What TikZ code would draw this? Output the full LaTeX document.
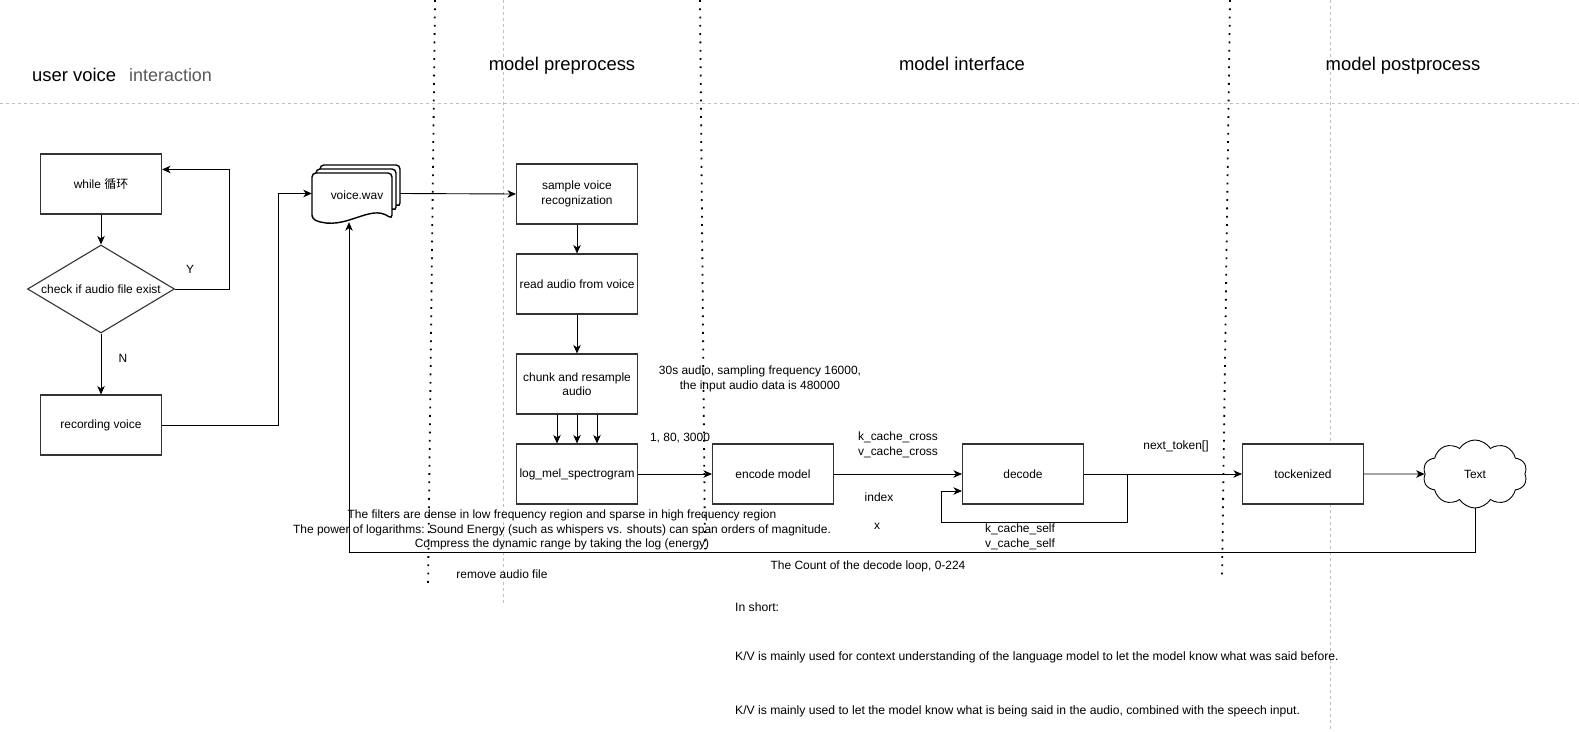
\documentclass[tikz,border=0pt]{standalone}
\usepackage{graphicx}
\usepackage{fontspec}
\setmainfont{Liberation Sans}
\newfontfamily\cjk{Noto Sans CJK SC}
\usetikzlibrary{shapes.geometric,shapes.symbols,arrows.meta,calc}
\begin{document}
\begin{tikzpicture}[x=1bp,y=-1bp,
  every node/.style={font=\fontsize{12}{14.5}\selectfont, inner sep=0pt},
  box/.style={draw=black!80, line width=1.1bp, fill=white, minimum width=121bp, minimum height=60bp, align=center},
  arr/.style={draw=black, line width=0.9bp, -{Stealth[length=8.5bp,width=7.5bp,inset=2.5bp]}},
  conn/.style={draw=black, line width=0.9bp},
  gridline/.style={draw=black!25, line width=0.7bp, dash pattern=on 3bp off 3bp},
  dots/.style={draw=black, line width=1.8bp, dash pattern=on 1.8bp off 6.5bp},
  lbl/.style={align=center},
  head/.style={font=\fontsize{18.5}{22}\selectfont},
  doc/.style={draw=black, line width=1.4bp, fill=white, rounded corners=4bp},
  note/.style={anchor=west, font=\fontsize{12.2}{14}\selectfont},
]
\useasboundingbox (0,0) rectangle (1579,732);
\fill[white] (0,0) rectangle (1579,732);

% lanes
\draw[gridline] (0,103) -- (1579,103);
\draw[gridline] (503,0) -- (503,605);
\draw[gridline] (1330,0) -- (1330,732);
\draw[dots] (435,0) -- (428,589);
\draw[dots] (700,0) -- (705,549);
\draw[dots] (1230,0) -- (1222,579);

% headings
\node[head, anchor=west] (huser) at (32,75) {user voice};
\node[anchor=west, font=\fontsize{18}{20}\selectfont, text=black!65] (hinter) at (129,75) {interaction};
\node[head] (hpre) at (562,66) {model preprocess};
\node[head] (hmod) at (962,63.5) {model interface};
\node[head] (hpost) at (1403,66) {model postprocess};

% left flow
\node[box] (while) at (101,184) {while {\cjk 循环}};
\node[draw=black!80, line width=1.1bp, diamond, minimum width=147bp, minimum height=88bp, fill=white] (chk) at (101,289) {\makebox[0pt]{check if audio file exist}};
\node[box] (rec) at (101,425) {recording voice};
\draw[arr] (while) -- (chk);
\draw[arr] (chk) -- (rec);
\node (lN) at (123,358) {N};
\node (lY) at (190,269) {Y};
\draw[arr] (chk.east) -| ($(while.north east)+(67,16)$) -- ($(while.north east)+(0,16)$);

% voice.wav multi document
\node[minimum width=88bp, minimum height=57bp] (wav) at (356,193.5) {};
\draw[doc] (320,211) -- (320,165) -- (400,165) -- (400,207) .. controls (380,196) and (350,220) .. cycle;
\draw[doc] (316,215) -- (316,169) -- (396,169) -- (396,211) .. controls (376,200) and (346,224) .. (316,215) -- cycle;
\draw[doc] (312,219) -- (312,173) -- (392,173) -- (392,219) .. controls (370,203) and (345,232) .. (312,219) -- cycle;
\node (wavtxt) at (357,195) {voice.wav};
\draw[arr] (rec.east) -- ++(116,0) |- (wav.west);

% preprocess
\node[box] (samp) at (577,194) {sample voice\\recognization};
\node[box] (read) at (577,284) {read audio from voice};
\node[box] (chunk) at (577,384) {chunk and resample\\audio};
\node[box] (logm) at (577,474) {log\_mel\_spectrogram};
\draw[arr] (wav.east) -- (samp.west);
\draw[arr] (samp) -- (read);
\draw[arr] (read) -- (chunk);
\draw[arr] ($(chunk.south)+(-20,0)$) -- ($(logm.north)+(-20,0)$);
\draw[arr] (chunk.south) -- (logm.north);
\draw[arr] ($(chunk.south)+(20,0)$) -- ($(logm.north)+(20,0)$);

% interface
\node[box] (enc) at (773,474) {encode model};
\node[box] (dec) at (1023,474) {decode};
\node[box] (tock) at (1303,474) {tockenized};
\node[cloud, draw=black, line width=0.9bp, cloud puffs=10, cloud puff arc=115, aspect=1.5, minimum width=104bp, minimum height=68bp, fill=white] (cloud) at (1475,474) {Text};
\draw[arr] (logm) -- (enc);
\draw[arr] (enc) -- (dec);
\draw[arr] (dec) -- (tock);
\draw[arr] (dec.east) -- ++(43,0) -- ++(0,48) -| ($(dec.west)+(-21,17)$) -- ($(dec.west)+(0,17)$);
\draw[arr] (tock) -- (cloud);
\coordinate (botline) at (0,552);
\draw[arr] (cloud.south) -- (cloud.south |- botline) -| ($(wav.south)+(-7,0)$);

% labels
\node (l180) at (680,438) {1, 80, 3000};
\node[lbl] (l30) at (760,379) {30s audio, sampling frequency 16000,\\the input audio data is 480000};
\node[lbl] (lkc) at (898,445) {k\_cache\_cross\\v\_cache\_cross};
\node (lidx) at (879,497) {index};
\node (lx) at (877,526) {x};
\node[lbl] (lks) at (1020,537) {k\_cache\_self\\v\_cache\_self};
\node (lnt) at (1176,446) {next\_token[]};
\node[lbl] (lfil) at (562,530) {The filters are dense in low frequency region and sparse in high frequency region\\The power of logarithms: Sound Energy (such as whispers vs. shouts) can span orders of magnitude.\\Compress the dynamic range by taking the log (energy)};
\node (lrm) at (502,574) {remove audio file};
\node (lcnt) at (868,566) {The Count of the decode loop, 0-224};

\node[note] (n1) at (735,607) {In short:};
\node[note] (n2) at (735,657) {K/V is mainly used for context understanding of the language model to let the model know what was said before.};
\node[note] (n3) at (735,711) {K/V is mainly used to let the model know what is being said in the audio, combined with the speech input.};
\end{tikzpicture}
\end{document}
